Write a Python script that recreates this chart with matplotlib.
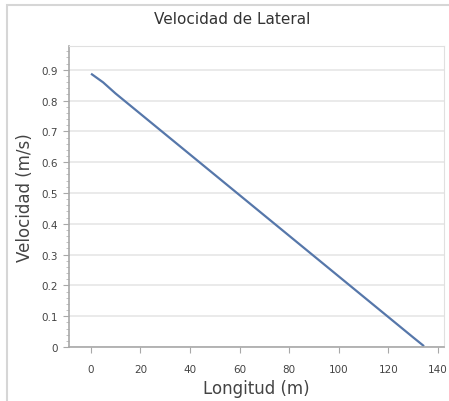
import matplotlib.pyplot as plt
from matplotlib.patches import Rectangle
from matplotlib.ticker import MultipleLocator

# Data
longitud = [0.5, 5, 10, 20, 30, 40, 50, 60, 70, 80, 90, 100, 110, 120, 130, 134]
velocidad = [0.885, 0.859, 0.823, 0.757, 0.691, 0.625, 0.559, 0.493, 0.427,
             0.361, 0.295, 0.229, 0.163, 0.097, 0.031, 0.005]
x_ticks = [0, 20, 40, 60, 80, 100, 120, 140]
y_ticks = [0, 0.1, 0.2, 0.3, 0.4, 0.5, 0.6, 0.7, 0.8, 0.9]
y_labels = ['0', '0.1', '0.2', '0.3', '0.4', '0.5', '0.6', '0.7', '0.8', '0.9']

fig = plt.figure(figsize=(4.49, 4.02), dpi=100)
ax = fig.add_axes([69 / 449, 54 / 402, 375 / 449, 301 / 402])

# outer frame of the picture
fig.patches.append(Rectangle((7 / 449, -0.1), 1.2, 1.1 - 6 / 402,
                             transform=fig.transFigure, fill=False,
                             edgecolor='#d6d6d6', linewidth=1.5))

ax.plot(longitud, velocidad, color='#5677aa', linewidth=1.6)

ax.set_xlim(-8.75, 142.4)
ax.set_ylim(0, 0.977)
ax.set_xticks(x_ticks)
ax.set_yticks(y_ticks)
ax.set_yticklabels(y_labels)
ax.yaxis.set_minor_locator(MultipleLocator(0.02))
ax.grid(True, axis='y', color='#e6e6e6', linewidth=1.2)
ax.set_axisbelow(True)

for side in ['top', 'right']:
    ax.spines[side].set_color('#e0e0e0')
for side in ['left', 'bottom']:
    ax.spines[side].set_color('#a8a8a8')
    ax.spines[side].set_linewidth(1.2)

ax.tick_params(axis='both', labelsize=7.5, labelcolor='#444444', color='#a8a8a8')
ax.tick_params(axis='y', which='major', length=4, pad=4)
ax.tick_params(axis='y', which='minor', length=2, color='#b8b8b8')
ax.tick_params(axis='x', length=4, pad=8)

fig.text(232 / 449, 1 - 20 / 402, 'Velocidad de Lateral', fontsize=11,
         color='#333333', ha='center', va='center')
ax.set_xlabel('Longitud (m)', fontsize=12, color='#444444', labelpad=4)
ax.set_ylabel('Velocidad (m/s)', fontsize=12, color='#444444', labelpad=5)

plt.savefig('out.png', dpi=100)
